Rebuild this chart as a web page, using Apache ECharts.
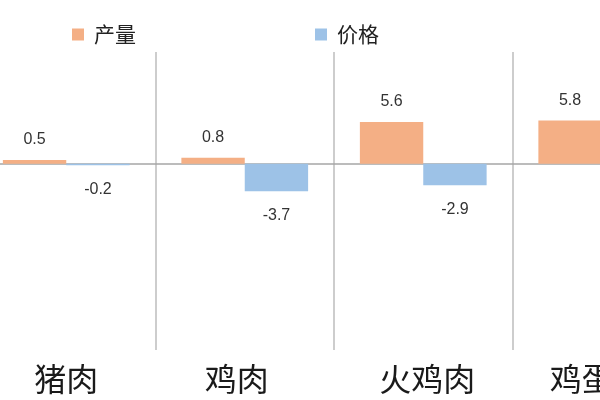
<!DOCTYPE html>
<html>
<head>
<meta charset="utf-8">
<script src="https://cdn.jsdelivr.net/npm/echarts@6/dist/echarts.min.js"></script>
<style>
html, body { margin: 0; padding: 0; background: #fff; }
#main { width: 600px; height: 400px; }
</style>
</head>
<body>
<div id="main"></div>
<script>
var categories = ['猪肉', '鸡肉', '火鸡肉', '鸡蛋'];
var outputValues = [0.5, 0.8, 5.6, 5.8];
var priceValues = [-0.2, -3.7, -2.9, -22.8];
var seriesNames = ['产量', '价格'];

var colors = {
	'产量' : '#F4AF85',
	'价格' : '#9DC2E7'
};

// small sideways nudges of the category names, as in the original picture
var labelPads = [
	[0, 0, 0, 0],
	[0, 16, 0, 0],
	[0, 0, 0, 8],
	[0, 40, 0, 0]
];

var chart = echarts.init(document.getElementById('main'));

function labelFor(pos, dist) {
	return {
		show : true,
		position : pos,
		distance : dist,
		color : '#333',
		fontSize : 16,
		fontFamily : 'Liberation Sans, Arial, sans-serif'
	};
}

var catData = categories.map(function(name, i) {
	return {
		value : name,
		textStyle : { padding : labelPads[i] }
	};
});

var option = {
	animation : false,
	legend : {
		data : seriesNames,
		left : 67,
		top : 19,
		itemWidth : 12,
		itemHeight : 12,
		itemGap : 179,
		itemStyle : { borderWidth : 0 },
		icon : 'rect',
		textStyle : {
			color : '#222',
			fontSize : 21,
			padding : [0, 0, 0, 5],
			fontFamily : 'Noto Sans CJK SC'
		}
	},
	grid : {
		left : -23,
		right : -91,
		top : 52,
		bottom : 50,
		containLabel : false,
		outerBoundsMode : 'none'
	},
	xAxis : [ {
		// category names at the bottom and the separators
		type : 'category',
		data : catData,
		position : 'bottom',
		axisTick : { show : false },
		axisLine : { show : false, onZero : false },
		axisLabel : {
			interval : 0,
			margin : 13,
			color : '#1a1a1a',
			fontSize : 32,
			fontFamily : 'Noto Sans CJK SC'
		},
		splitLine : {
			show : true,
			lineStyle : { color : '#BDBDBD', width : 1.5 }
		}
	}, {
		// zero line only
		type : 'category',
		data : categories,
		position : 'bottom',
		axisTick : { show : false },
		axisLabel : { show : false },
		axisLine : {
			onZero : true,
			lineStyle : { color : '#A6A6A6', width : 1.5 }
		},
		splitLine : { show : false }
	} ],
	yAxis : {
		type : 'value',
		min : -25,
		max : 15,
		show : false,
		splitLine : { show : false }
	},
	series : [ {
		name : '产量',
		type : 'bar',
		data : outputValues,
		barGap : '0%',
		barCategoryGap : '29%',
		itemStyle : { color : colors['产量'] },
		label : labelFor('top', 12)
	}, {
		name : '价格',
		type : 'bar',
		data : priceValues,
		itemStyle : { color : colors['价格'] },
		label : labelFor('bottom', 16)
	} ]
};

chart.setOption(option);
</script>
</body>
</html>
